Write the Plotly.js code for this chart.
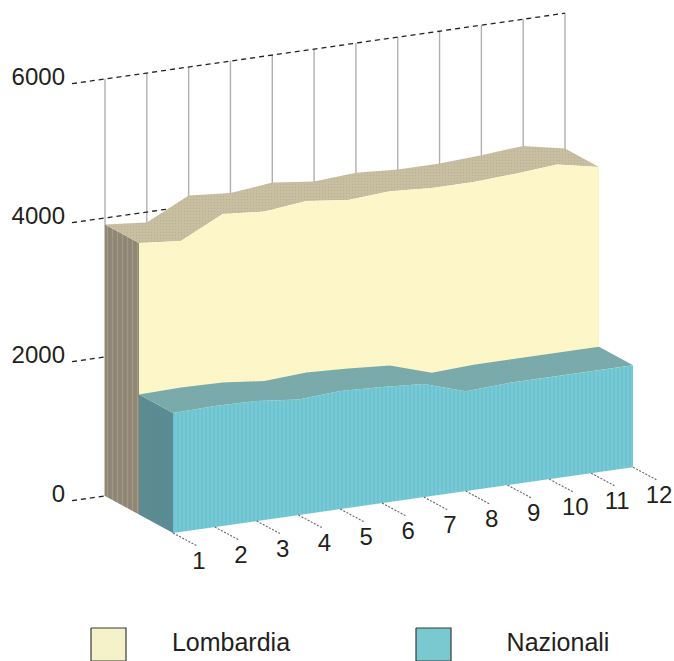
<!DOCTYPE html>
<html>
<head>
<meta charset="utf-8">
<script src="https://cdn.plot.ly/plotly-3.0.1.min.js"></script>
<style>html,body{margin:0;padding:0;background:#fff}#chart{width:674px;height:661px}</style>
</head>
<body>
<div id="chart"></div>
<script>
const months = [1,2,3,4,5,6,7,8,9,10,11,12];
const lombardia = [3906,3849,4151,4100,4165,4095,4135,4095,4095,4130,4176,4053];
const nazionali = [1727,1741,1727,1662,1698,1669,1626,1439,1468,1468,1468,1468];
const yTicks = [0,2000,4000,6000];
const seriesNames = ['Lombardia','Nazionali'];

// oblique projection of (month, value, depth row) on to the page
const X = (m,d)=>173+(m-1)*41.82-d*34;
const Y = (m,v,d)=>533-(m-1)*5.98-v*0.0695-d*18.5;

const traces = [];
const poly = (pts,fill,pattern)=>{
  const t = {x:pts.map(p=>p[0]),y:pts.map(p=>p[1]),mode:'lines',fill:'toself',fillcolor:fill,
    line:{width:0,color:fill},hoverinfo:'skip',showlegend:false,type:'scatter'};
  if(pattern) t.fillpattern=pattern;
  traces.push(t);
};
const line = (pts,color,width,dash)=>traces.push({x:pts.map(p=>p[0]),y:pts.map(p=>p[1]),mode:'lines',
  line:{color,width,dash:dash||'solid'},hoverinfo:'skip',showlegend:false,type:'scatter'});

// back wall
months.forEach(m=>line([[X(m,2),Y(m,0,2)],[X(m,2),Y(m,6000,2)]],'#b5aeae',1.4));
yTicks.forEach(v=>{
  const end = v===6000||v===4000 ? 12 : 1;
  line([[X(0.21,2),Y(0.21,v,2)],[X(end,2),Y(end,v,2)]],'#222222',1.3,'5px,4px');
});

// one ribbon of the 3D area
function ribbon(vals,row,cols,pat){
  const front = months.map((m,i)=>[X(m,row),Y(m,vals[i],row)]);
  const back = months.map((m,i)=>[X(m,row+1),Y(m,vals[i],row+1)]);
  poly([[X(1,row+1),Y(1,0,row+1)],[X(1,row),Y(1,0,row)],front[0],back[0]],cols.side,
    {shape:'|',size:5,solidity:0.25,fgcolor:cols.sideFg,bgcolor:cols.side});
  poly([...front,...back.slice().reverse()],cols.top,
    {shape:'.',size:3,solidity:0.15,fgcolor:cols.topFg,bgcolor:cols.top});
  poly([[X(1,row),Y(1,0,row)],...front,[X(12,row),Y(12,0,row)]],cols.front,
    {shape:'|',size:pat,solidity:0.3,fgcolor:cols.frontFg,bgcolor:cols.front});
}
ribbon(lombardia,1,{side:'#8f8675',sideFg:'#a39a84',top:'#c9bfa0',topFg:'#b8b09c',front:'#fef7c4',frontFg:'#faf4d6'},4);
ribbon(nazionali,0,{side:'#5f8b90',sideFg:'#4f8f9c',top:'#7fa9a8',topFg:'#5fb0b8',front:'#78cad2',frontFg:'#66bfd6'},4);

// month ticks
months.forEach(m=>line([[X(m,0),Y(m,0,0)],[X(m+0.58,0),Y(m,0,0)+13]],'#6b6360',1.1,'2px,1.5px'));

// text
traces.push({x:yTicks.map(()=>65),y:yTicks.map(v=>Y(0.21,v,2)-5),text:yTicks.map(String),mode:'text',
  textfont:{family:'Liberation Sans',size:24,color:'#231f20'},textposition:'middle left',hoverinfo:'skip',showlegend:false,type:'scatter'});
traces.push({x:months.map(m=>X(m,0)+26),y:months.map(m=>Y(m,0,0)+30),text:months.map(String),mode:'text',
  textfont:{family:'Liberation Sans',size:24,color:'#231f20'},textposition:'middle center',hoverinfo:'skip',showlegend:false,type:'scatter'});

// legend
const swatchX=[91,416], swatchCol=['#f5f1c8','#7ac8d0'], labelX=[231,558];
seriesNames.forEach((n,i)=>{
  traces.push({x:[swatchX[i],swatchX[i]+35,swatchX[i]+35,swatchX[i],swatchX[i]],y:[628,628,661,661,628],mode:'lines',fill:'toself',
    fillcolor:swatchCol[i],line:{color:'#3a3a3a',width:1.2},hoverinfo:'skip',showlegend:false,type:'scatter'});
  traces.push({x:[labelX[i]],y:[645],text:[n],mode:'text',textfont:{family:'Liberation Sans',size:25,color:'#231f20'},
    textposition:'middle center',hoverinfo:'skip',showlegend:false,type:'scatter'});
});

const layout = {width:674,height:661,margin:{l:0,r:0,t:0,b:0},paper_bgcolor:'#fff',plot_bgcolor:'#fff',showlegend:false,
  xaxis:{range:[0,674],visible:false,fixedrange:true},
  yaxis:{range:[661,0],visible:false,fixedrange:true}};
Plotly.newPlot('chart',traces,layout,{displayModeBar:false,staticPlot:true});
</script>
</body>
</html>
